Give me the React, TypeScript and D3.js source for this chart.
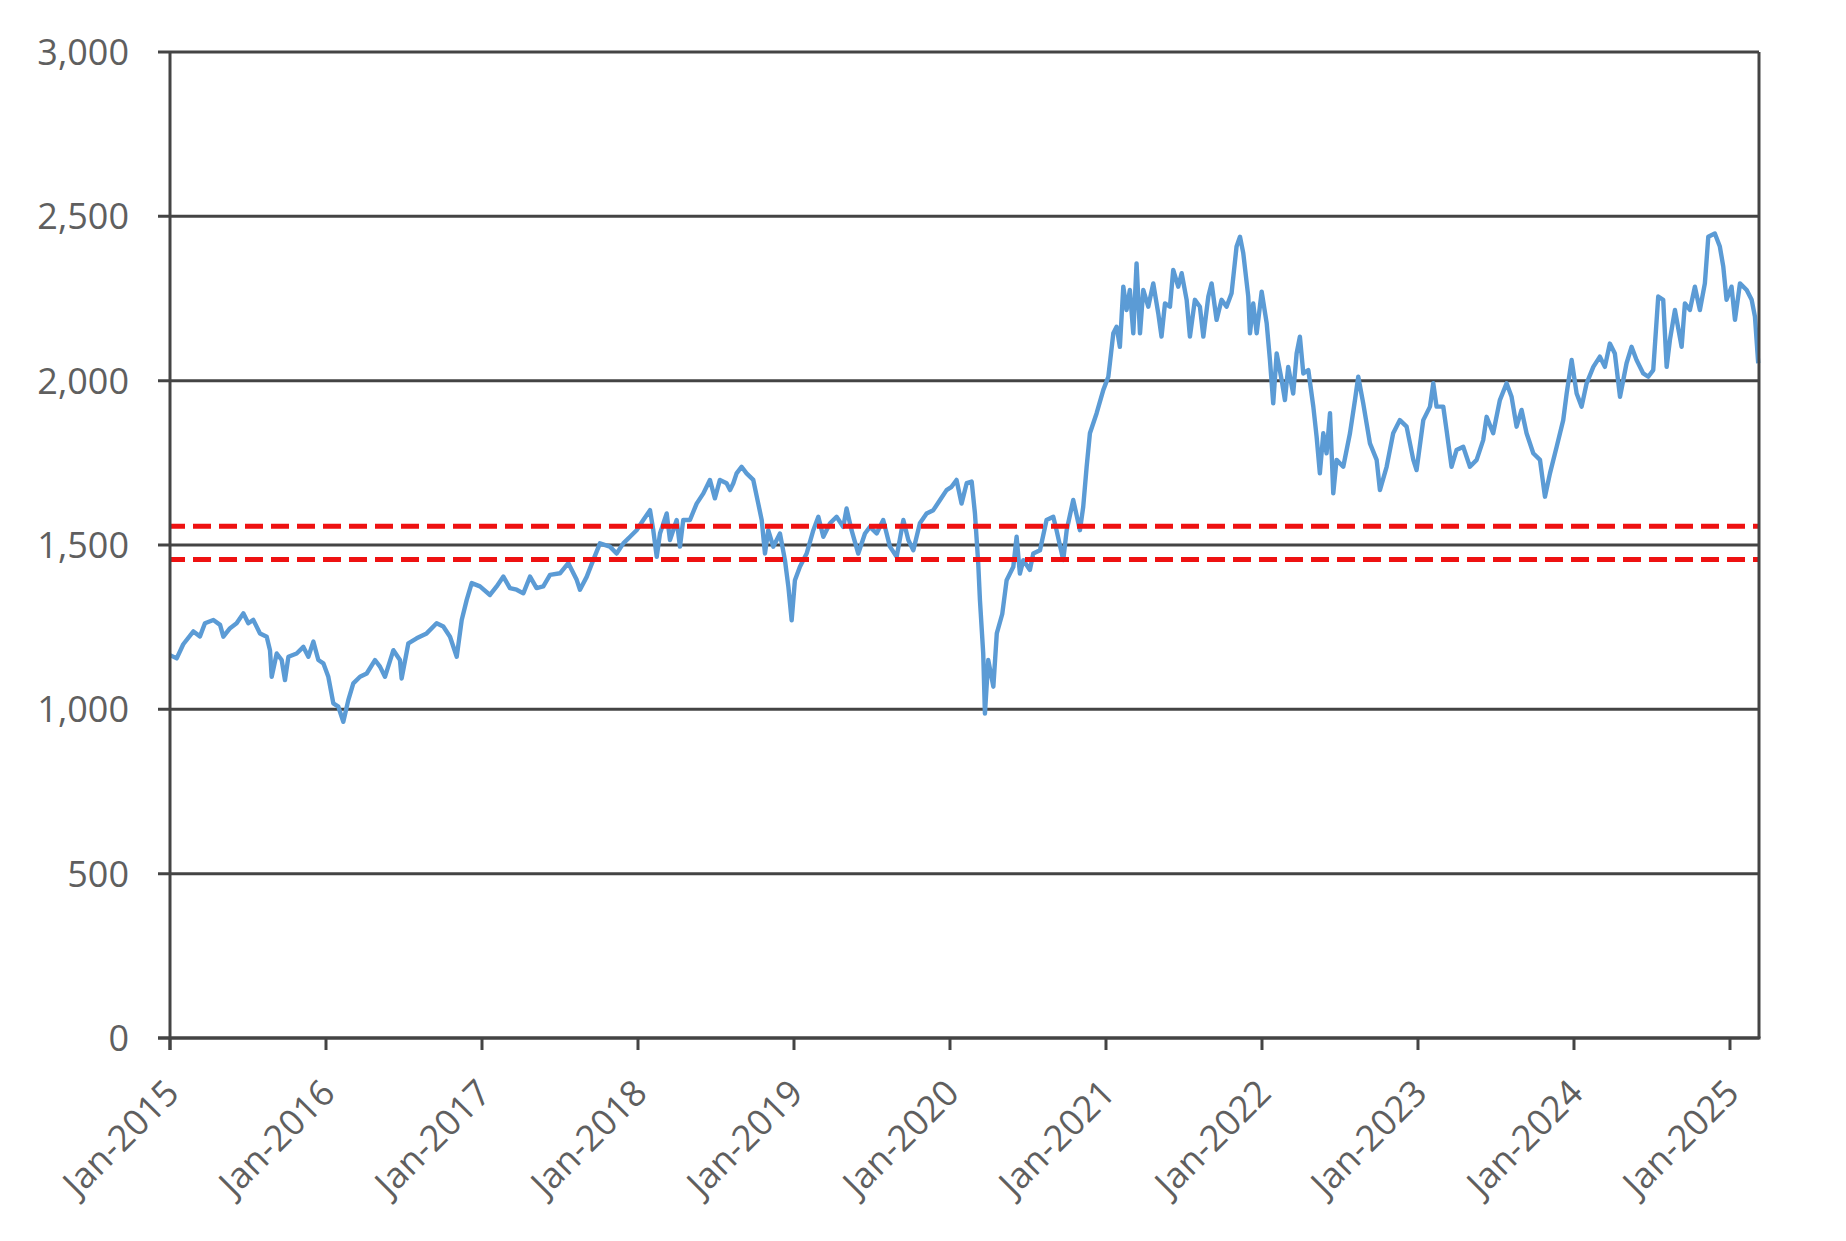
import React from "react";
import * as d3 from "d3";

// ---- data ----
const dates: number[] = [
  2015.000, 2015.043, 2015.085, 2015.150, 2015.192, 2015.224, 2015.278, 2015.321, 2015.342, 2015.385,
  2015.427, 2015.470, 2015.502, 2015.534, 2015.577, 2015.620, 2015.641, 2015.652, 2015.684, 2015.716,
  2015.737, 2015.759, 2015.812, 2015.855, 2015.887, 2015.919, 2015.951, 2015.983, 2016.015, 2016.047,
  2016.079, 2016.111, 2016.143, 2016.175, 2016.218, 2016.261, 2016.314, 2016.346, 2016.378, 2016.432,
  2016.474, 2016.485, 2016.528, 2016.581, 2016.645, 2016.709, 2016.752, 2016.795, 2016.838, 2016.870,
  2016.902, 2016.934, 2016.987, 2017.051, 2017.094, 2017.137, 2017.179, 2017.222, 2017.265, 2017.308,
  2017.350, 2017.393, 2017.436, 2017.500, 2017.553, 2017.607, 2017.628,
  2017.671, 2017.713, 2017.756, 2017.820, 2017.863, 2017.906, 2017.949, 2017.991, 2018.034, 2018.077,
  2018.098, 2018.120, 2018.141, 2018.184, 2018.205, 2018.248, 2018.269, 2018.290, 2018.333, 2018.376,
  2018.419, 2018.461, 2018.493, 2018.525, 2018.568, 2018.590, 2018.611, 2018.632, 2018.664, 2018.696,
  2018.739, 2018.771, 2018.793, 2018.814, 2018.835, 2018.867, 2018.910, 2018.942, 2018.964, 2018.985,
  2019.006, 2019.038, 2019.081, 2019.124, 2019.156, 2019.188, 2019.231, 2019.273, 2019.316, 2019.337,
  2019.369, 2019.412, 2019.455, 2019.487, 2019.530, 2019.572, 2019.615, 2019.658, 2019.701, 2019.733,
  2019.765, 2019.807, 2019.850, 2019.893, 2019.936, 2019.978, 2020.010, 2020.042, 2020.074, 2020.107,
  2020.139, 2020.160, 2020.181, 2020.192, 2020.213, 2020.224, 2020.245, 2020.278, 2020.300, 2020.335,
  2020.363, 2020.406, 2020.427, 2020.448, 2020.470, 2020.512, 2020.534, 2020.577, 2020.619, 2020.662,
  2020.683, 2020.726, 2020.748, 2020.790, 2020.833, 2020.854, 2020.876, 2020.897, 2020.940, 2020.983,
  2021.015, 2021.047, 2021.068, 2021.089, 2021.111, 2021.132, 2021.153, 2021.175, 2021.196, 2021.218,
  2021.239, 2021.271, 2021.303, 2021.335, 2021.356, 2021.378, 2021.410, 2021.431, 2021.463, 2021.485,
  2021.517, 2021.538, 2021.570, 2021.602, 2021.624, 2021.656, 2021.677, 2021.709, 2021.741, 2021.773,
  2021.805, 2021.837, 2021.859, 2021.880, 2021.912, 2021.923, 2021.944, 2021.966, 2021.998, 2022.030,
  2022.051, 2022.072, 2022.094, 2022.126, 2022.147, 2022.168, 2022.200, 2022.222, 2022.243, 2022.265,
  2022.297, 2022.329, 2022.350, 2022.371, 2022.393, 2022.414, 2022.436, 2022.457, 2022.478, 2022.521,
  2022.564, 2022.596, 2022.617, 2022.649, 2022.692, 2022.735, 2022.756,
  2022.799, 2022.841, 2022.884, 2022.927, 2022.970, 2022.991, 2023.034, 2023.077, 2023.098, 2023.119,
  2023.162, 2023.183, 2023.215, 2023.247, 2023.290, 2023.333, 2023.376, 2023.418, 2023.440, 2023.482,
  2023.525, 2023.568, 2023.600, 2023.632, 2023.664, 2023.696, 2023.739, 2023.782, 2023.814, 2023.846,
  2023.889, 2023.931, 2023.953, 2023.985, 2024.017, 2024.049, 2024.081, 2024.124, 2024.166, 2024.198,
  2024.230, 2024.262, 2024.295, 2024.337, 2024.369, 2024.401, 2024.444, 2024.476, 2024.508, 2024.540,
  2024.572, 2024.594, 2024.615, 2024.647, 2024.690, 2024.711, 2024.743, 2024.775, 2024.807, 2024.839,
  2024.861, 2024.903, 2024.935, 2024.957, 2024.978, 2025.010, 2025.032, 2025.064, 2025.107, 2025.139,
  2025.160, 2025.181,
];

const prices: number[] = [
  1165, 1155, 1198, 1237, 1222, 1262, 1272, 1257, 1221, 1247,
  1262, 1292, 1262, 1272, 1231, 1221, 1180, 1099, 1170, 1150,
  1089, 1160, 1170, 1190, 1160, 1206, 1150, 1140, 1099, 1018,
  1008, 962, 1028, 1079, 1099, 1109, 1150, 1130, 1099, 1180,
  1150, 1094, 1201, 1216, 1231, 1262, 1252, 1221, 1160, 1272,
  1333, 1384, 1374, 1348, 1374, 1404, 1369, 1364, 1353, 1404,
  1369, 1374, 1409, 1414, 1445, 1394, 1364,
  1403, 1454, 1505, 1495, 1474, 1505, 1525, 1545, 1576, 1606,
  1545, 1464, 1535, 1596, 1515, 1576, 1495, 1576, 1576, 1626,
  1657, 1698, 1642, 1698, 1688, 1667, 1688, 1718, 1738, 1718,
  1698, 1626, 1576, 1474, 1545, 1495, 1535, 1454, 1373, 1271,
  1393, 1434, 1474, 1545, 1586, 1525, 1566, 1586, 1555, 1611,
  1545, 1474, 1535, 1555, 1535, 1576, 1495, 1464, 1576, 1515,
  1484, 1566, 1596, 1606, 1637, 1667, 1677, 1698, 1626, 1688,
  1693, 1596, 1444, 1332, 1170, 987, 1150, 1069, 1231, 1290,
  1393, 1434, 1525, 1413, 1454, 1424, 1474, 1484, 1576, 1586,
  1545, 1454, 1545, 1637, 1545, 1616, 1738, 1840, 1901, 1972,
  2012, 2144, 2164, 2103, 2286, 2215, 2276, 2144, 2357, 2144,
  2276, 2225, 2296, 2205, 2134, 2235, 2225, 2337, 2286, 2327,
  2246, 2134, 2246, 2225, 2134, 2256, 2296, 2185, 2246, 2225,
  2266, 2408, 2438, 2388, 2256, 2144, 2235, 2144, 2271, 2175,
  2063, 1931, 2083, 2002, 1941, 2042, 1961, 2083, 2134, 2022,
  2032, 1921, 1830, 1718, 1840, 1779, 1901, 1657, 1759, 1738,
  1840, 1941, 2012, 1931, 1809, 1759, 1667,
  1738, 1840, 1880, 1860, 1759, 1728, 1880, 1921, 1992, 1921,
  1921, 1850, 1738, 1789, 1799, 1738, 1759, 1819, 1890, 1840,
  1941, 1992, 1951, 1860, 1911, 1840, 1779, 1759, 1647, 1718,
  1799, 1880, 1961, 2063, 1961, 1921, 1992, 2042, 2073, 2042,
  2113, 2083, 1951, 2053, 2103, 2063, 2022, 2012, 2032, 2256,
  2246, 2042, 2124, 2215, 2103, 2235, 2215, 2286, 2215, 2296,
  2438, 2448, 2408, 2347, 2246, 2286, 2185, 2296, 2276, 2246,
  2195, 2053,
];

const yTicks: number[] = [0, 500, 1000, 1500, 2000, 2500, 3000];
const xTickYears: number[] = [2015, 2016, 2017, 2018, 2019, 2020, 2021, 2022, 2023, 2024, 2025];
const xTickLabels: string[] = xTickYears.map((y) => `Jan-${y}`);
const bandLevels: number[] = [1557, 1456];
const xDomain: [number, number] = [2015, 2025.186];
const yDomain: [number, number] = [0, 3000];

// ---- layout ----
const W = 1846;
const H = 1241;
const L = 170;
const R = 1759;
const T = 52;
const B = 1038;

const GRID = "#444444";
const TEXT = "#5f5f5f";
const FONT = "'Open Sans', 'DejaVu Sans', sans-serif";

export default function App() {
  const x = d3.scaleLinear().domain(xDomain).range([L, R]);
  const y = d3.scaleLinear().domain(yDomain).range([B, T]);
  const pts: [number, number][] = dates.map((d, i) => [d, prices[i]]);
  const line = d3
    .line<[number, number]>()
    .x((d) => x(d[0]))
    .y((d) => y(d[1]));
  const fmt = d3.format(",");

  return (
    <div style={{ position: "absolute", left: 0, top: 0 }}>
      <svg width={W} height={H} style={{ display: "block", background: "#fff" }}>
        {/* horizontal gridlines with left ticks */}
        {yTicks.map((t) => (
          <line key={`g${t}`} x1={L - 12} x2={R} y1={y(t)} y2={y(t)} stroke={GRID} strokeWidth={3} />
        ))}
        {/* y labels */}
        {yTicks.map((t) => (
          <text
            key={`yl${t}`}
            x={129}
            y={y(t)}
            dy="0.36em"
            textAnchor="end"
            fontFamily={FONT}
            fontSize={36}
            fill={TEXT}
          >
            {fmt(t)}
          </text>
        ))}
        {/* series line */}
        <path d={line(pts) || ""} fill="none" stroke="#5b9bd5" strokeWidth={4.4} strokeLinejoin="round" />
        {/* red dashed band */}
        {bandLevels.map((v) => (
          <line
            key={`b${v}`}
            x1={L}
            x2={R}
            y1={y(v)}
            y2={y(v)}
            stroke="#ee1111"
            strokeWidth={5}
            strokeDasharray="18 8"
            strokeDashoffset={3}
          />
        ))}
        {/* axes / frame */}
        <line x1={L} x2={L} y1={T} y2={B + 12} stroke={GRID} strokeWidth={3} />
        <line x1={R} x2={R} y1={T} y2={B} stroke={GRID} strokeWidth={3} />
        <line x1={L - 12} x2={R + 1.5} y1={B} y2={B} stroke={GRID} strokeWidth={3.2} />
        {/* x ticks */}
        {xTickYears.map((yr) => (
          <line key={`xt${yr}`} x1={x(yr)} x2={x(yr)} y1={B} y2={B + 12} stroke={GRID} strokeWidth={3} />
        ))}
        {/* x labels */}
        {xTickYears.map((yr, i) => (
          <text
            key={`xl${yr}`}
            transform={`translate(${x(yr) + 2},${B + 48}) rotate(-45)`}
            dy="0.36em"
            textAnchor="end"
            fontFamily={FONT}
            fontSize={36}
            fill={TEXT}
          >
            {xTickLabels[i]}
          </text>
        ))}
      </svg>
    </div>
  );
}
